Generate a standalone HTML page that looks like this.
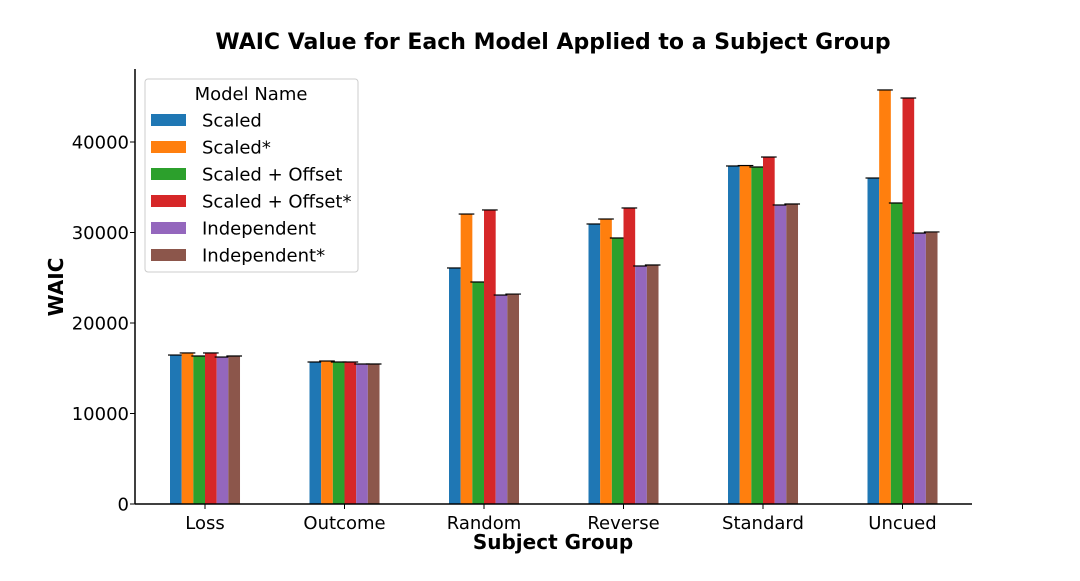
<!DOCTYPE html>
<html><head><meta charset="utf-8"><style>
body{margin:0;background:#fff;}
svg text{font-family:"DejaVu Sans","Liberation Sans",sans-serif;}
</style></head><body>
<svg id="chart" width="1080" height="576" xmlns="http://www.w3.org/2000/svg">
<rect width="1080" height="576" fill="#fff"/>
<text x="553" y="49" font-size="22" font-weight="bold" text-anchor="middle">WAIC Value for Each Model Applied to a Subject Group</text>
<text transform="translate(63,287) rotate(-90)" font-size="20" font-weight="bold" text-anchor="middle">WAIC</text>
<text x="553" y="549" font-size="20" font-weight="bold" text-anchor="middle">Subject Group</text>
<g id="bars"></g>
<g id="axes"></g>
<g id="legend"></g>
</svg>
<script>
const categories=["Loss","Outcome","Random","Reverse","Standard","Uncued"];
const seriesNames=["Scaled","Scaled*","Scaled + Offset","Scaled + Offset*","Independent","Independent*"];
const colors=["#1f77b4","#ff7f0e","#2ca02c","#d62728","#9467bd","#8c564b"];
const scaled=[16460,15690,26080,30940,37350,36020];
const scaledStar=[16690,15800,32040,31490,37400,45750];
const scaledOffset=[16350,15690,24530,29390,37240,33260];
const scaledOffsetStar=[16690,15690,32490,32710,38340,44860];
const independent=[16240,15470,23090,26300,33040,29940];
const independentStar=[16350,15470,23200,26410,33150,30060];
const yTicks=[0,10000,20000,30000,40000];
const series=[scaled,scaledStar,scaledOffset,scaledOffsetStar,independent,independentStar];
const NS="http://www.w3.org/2000/svg";
const x0=135,x1=972,yTop=69,yBase=504;
const y=v=>yBase-v*(362/40000);
const gx=i=>205+i*139.5;
const bw=11.67;
function mk(t,a,p){const e=document.createElementNS(NS,t);for(const k in a)e.setAttribute(k,a[k]);p.appendChild(e);return e;}
const bars=document.getElementById('bars');
series.forEach((s,si)=>{s.forEach((v,ci)=>{
 const bx=gx(ci)-35+si*bw;
 const r=mk('rect',{x:bx,y:y(v),width:bw,height:yBase-y(v),fill:colors[si]},bars);
 
 
 const c=mk('line',{x1:bx-2,x2:bx+bw+2,y1:y(v),y2:y(v),stroke:'#000','stroke-width':1.2},bars);
 
 
});});
const ax=document.getElementById('axes');
mk('line',{x1:x0,x2:x0,y1:yTop,y2:yBase,stroke:'#000','stroke-width':1.5},ax);
mk('line',{x1:x0,x2:x1,y1:yBase,y2:yBase,stroke:'#000','stroke-width':1.5},ax);
yTicks.forEach(t=>{
 mk('line',{x1:x0-5,x2:x0,y1:y(t),y2:y(t),stroke:'#000','stroke-width':1},ax);
 const tx=mk('text',{x:x0-6,y:y(t)+6.5,'font-size':18,'text-anchor':'end'},ax);tx.textContent=t;
 
 
});
categories.forEach((c,i)=>{
 mk('line',{x1:gx(i),x2:gx(i),y1:yBase,y2:yBase+5,stroke:'#000','stroke-width':1},ax);
 const tx=mk('text',{x:gx(i),y:yBase+25,'font-size':18,'text-anchor':'middle'},ax);tx.textContent=c;
 
 
});
const lg=document.getElementById('legend');


mk('rect',{x:145,y:79,width:213,height:193,rx:3,fill:'#fff',stroke:'#ccc'},lg);
const lt=mk('text',{x:251,y:100,'font-size':18,'text-anchor':'middle'},lg);lt.textContent='Model Name';
seriesNames.forEach((n,i)=>{
 const yy=120+i*27;
 mk('rect',{x:151,y:yy-6,width:35,height:12,fill:colors[i]},lg);
 const t=mk('text',{x:202,y:yy+6.5,'font-size':18},lg);t.textContent=n;
 
 
});
</script>
</body></html>
